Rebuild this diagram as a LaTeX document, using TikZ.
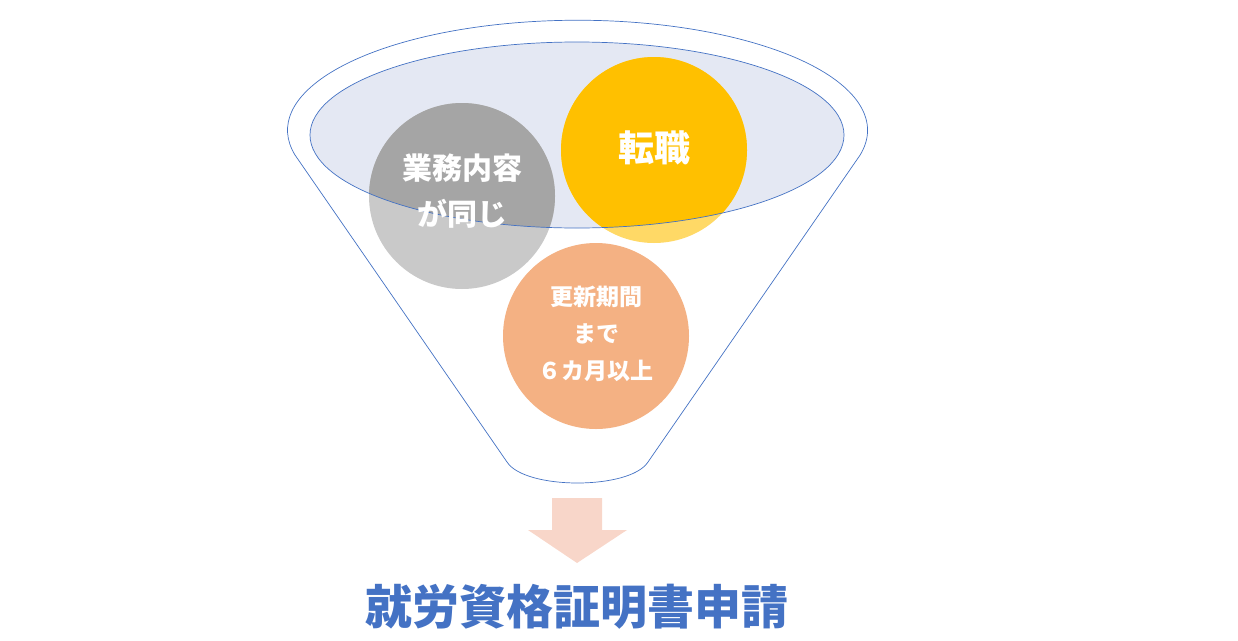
\documentclass[tikz,border=0pt]{standalone}
\usepackage{fontspec}
\newfontfamily\cjk{Noto Sans CJK JP}
\definecolor{fb}{HTML}{4472C4}
\definecolor{lav}{RGB}{228,232,243}
\definecolor{gl}{RGB}{201,201,201}
\definecolor{gd}{RGB}{165,165,165}
\definecolor{yl}{RGB}{255,217,102}
\definecolor{yd}{RGB}{255,192,0}
\definecolor{org}{RGB}{244,177,131}
\definecolor{arr}{RGB}{248,214,201}
\begin{document}
\begin{tikzpicture}[x=1pt,y=-1pt,
  lbl/.style={text=white,align=center}]
\useasboundingbox (0,0) rectangle (1238,640);
\draw[draw=fb,line width=0.7pt,fill=white] (295,155) arc[start angle=167,end angle=373,x radius=290,y radius=110]
  -- (648,462) .. controls (630,490) and (525,490) .. (507,462) -- cycle;
\fill[lav] (577,135) ellipse[x radius=267,y radius=93];
\fill[gl] (462,196) circle[radius=93];
\fill[yl] (654,150) circle[radius=93];
\begin{scope}
\clip (577,135) ellipse[x radius=267,y radius=93];
\fill[gd] (462,196) circle[radius=93];
\fill[yd] (654,150) circle[radius=93];
\end{scope}
\draw[draw=fb,line width=0.7pt] (577,135) ellipse[x radius=267,y radius=93];
\fill[org] (596,336) circle[radius=93];
\node[lbl,font=\cjk\bfseries\fontsize{30}{46}\selectfont] (a) at (462,191) {業務内容\\が同じ};
\node[lbl,font=\cjk\bfseries\fontsize{36}{40}\selectfont] (b) at (654,148) {転職};
\node[lbl,font=\cjk\bfseries\fontsize{23}{37}\selectfont] (c) at (596,334) {更新期間\\まで\\６カ月以上};
\fill[arr] (552,498) -- (602,498) -- (602,530) -- (627,530) -- (577,563) -- (528,530) -- (552,530) -- cycle;
\node[text=fb,font=\cjk\bfseries\fontsize{47}{52}\selectfont] (t) at (577,607) {就労資格証明書申請};
\end{tikzpicture}
\end{document}
